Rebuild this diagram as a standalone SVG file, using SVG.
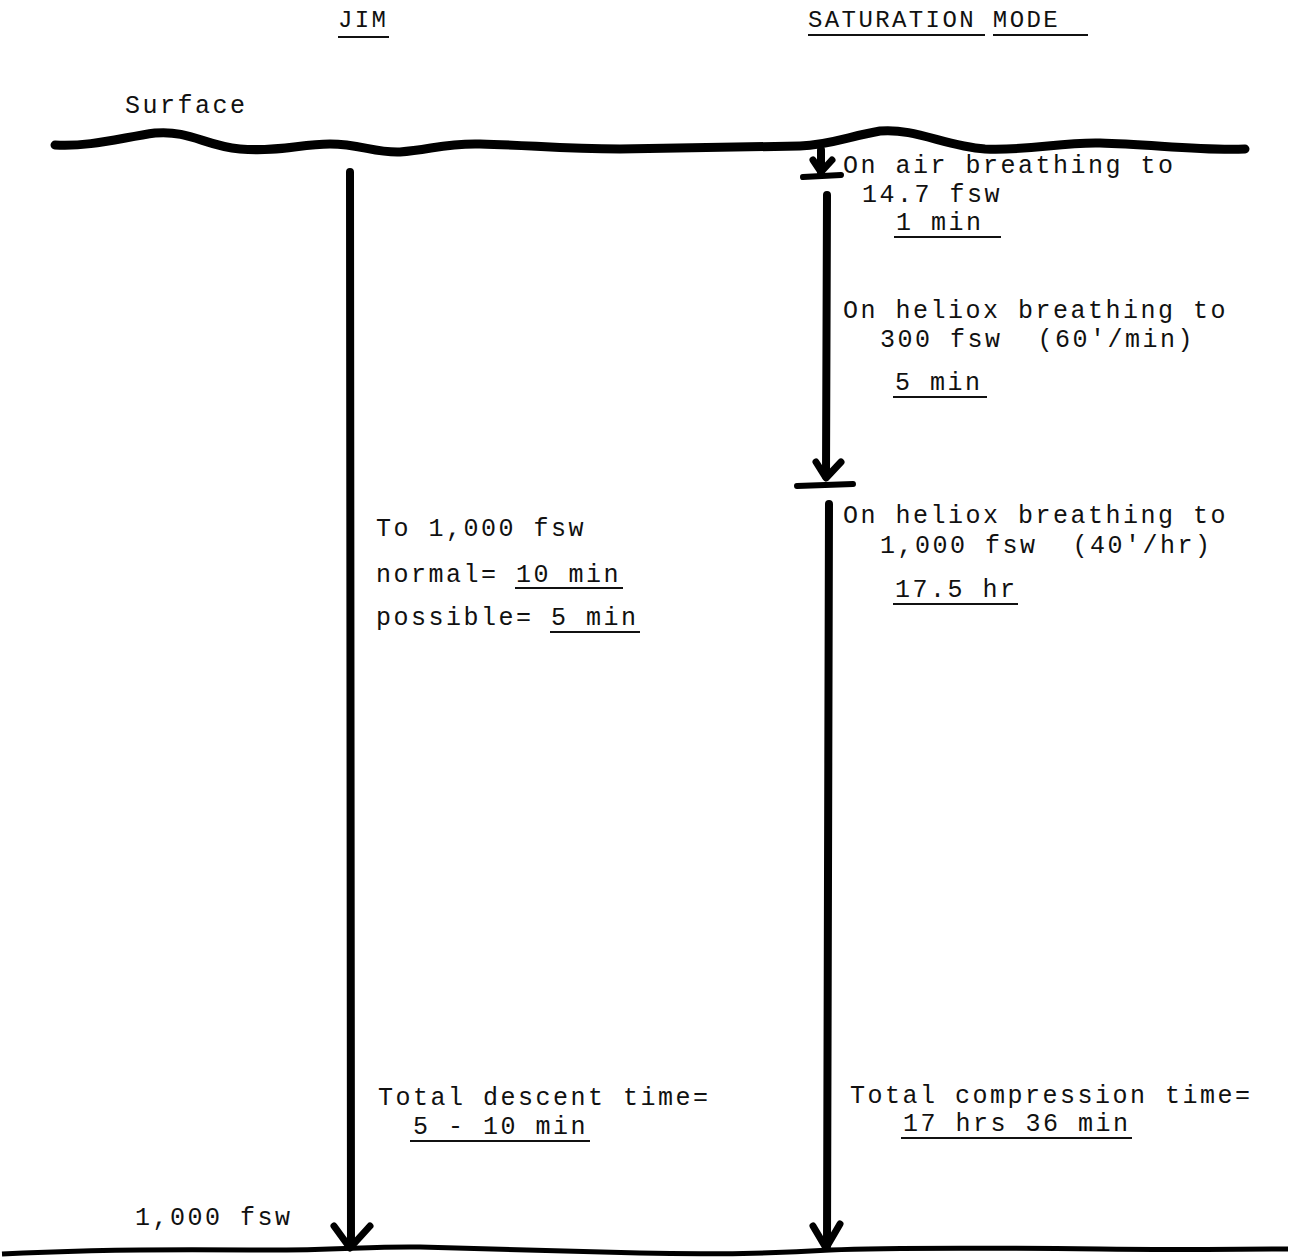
<svg xmlns="http://www.w3.org/2000/svg" width="1291" height="1259" viewBox="0 0 1291 1259">
<style>
text{font-family:"Liberation Mono","Courier New",monospace;font-size:25px;letter-spacing:2.5px;fill:#111;white-space:pre}
.hd{font-size:24px;letter-spacing:2.4px}
.ul{stroke:#111;stroke-width:2.2;fill:none}
.shaft{stroke:#000;stroke-linecap:round;fill:none}
.head{fill:none;stroke:#000;stroke-width:7;stroke-linecap:round;stroke-linejoin:round}
</style>
<rect width="1291" height="1259" fill="#fff"/>
<g id="headings">
<text class="hd" x="338" y="27">JIM</text>
<line class="ul" x1="338" y1="37" x2="389" y2="37"/>
<text class="hd" x="808" y="27">SATURATION MODE</text>
<line class="ul" x1="808" y1="35" x2="985" y2="35"/>
<line class="ul" x1="993" y1="35" x2="1088" y2="35"/>
</g>
<g id="surface">
<text x="125" y="113">Surface</text>
<path d="M55,145 C90,147 120,138 155,133 C190,130 205,146 240,149 C280,152 300,144 330,144 C360,144 375,153 400,152 C430,150 445,143 480,144 C530,145 560,149 620,149 C680,148 740,147 800,146 C830,145 850,136 880,131 C915,128 945,146 985,149 C1030,151 1060,142 1100,143 C1150,144 1200,151 1245,149" stroke="#000" stroke-width="9" fill="none" stroke-linecap="round"/>
</g>
<g id="bottom">
<text x="135" y="1225">1,000 fsw</text>
<path d="M2,1254 C60,1251 150,1249 250,1250 C330,1251 370,1246 420,1247 C480,1248 560,1251 640,1253 C720,1255 780,1253 830,1250 C900,1247 1000,1248 1100,1249 C1180,1250 1240,1249 1288,1249" stroke="#000" stroke-width="5" fill="none"/>
</g>
<g id="connectors">
<line class="shaft" x1="350" y1="172" x2="351" y2="1246" stroke-width="8"/>
<path class="head" d="M334,1226 L350,1248 L370,1226"/>
<line class="shaft" x1="821" y1="150" x2="821" y2="172" stroke-width="8"/>
<path class="head" d="M813,160 L821,172 L832,160"/>
<line class="shaft" x1="803" y1="177" x2="841" y2="175" stroke-width="6"/>
<line class="shaft" x1="827" y1="195" x2="826" y2="476" stroke-width="8"/>
<path class="head" d="M816,462 L826,478 L841,462"/>
<line class="shaft" x1="797" y1="486" x2="853" y2="484" stroke-width="6"/>
<line class="shaft" x1="829" y1="504" x2="827" y2="1246" stroke-width="8"/>
<path class="head" d="M813,1226 L826,1248 L840,1224"/>
</g>
<g id="sat-texts">
<text x="843" y="173">On air breathing to</text>
<text x="862" y="202">14.7 fsw</text>
<text x="896" y="230">1 min</text>
<line class="ul" x1="894" y1="237" x2="1001" y2="237"/>
<text x="843" y="318">On heliox breathing to</text>
<text x="880" y="347" xml:space="preserve">300 fsw  (60'/min)</text>
<text x="895" y="390">5 min</text>
<line class="ul" x1="893" y1="397" x2="987" y2="397"/>
<text x="843" y="523">On heliox breathing to</text>
<text x="880" y="553" xml:space="preserve">1,000 fsw  (40'/hr)</text>
<text x="895" y="597">17.5 hr</text>
<line class="ul" x1="893" y1="604" x2="1018" y2="604"/>
<text x="850" y="1103">Total compression time=</text>
<text x="903" y="1131">17 hrs 36 min</text>
<line class="ul" x1="901" y1="1138" x2="1132" y2="1138"/>
</g>
<g id="jim-texts">
<text x="376" y="536">To 1,000 fsw</text>
<text x="376" y="582">normal= 10 min</text>
<line class="ul" x1="515" y1="588" x2="623" y2="588"/>
<text x="376" y="625">possible= 5 min</text>
<line class="ul" x1="550" y1="632" x2="640" y2="632"/>
<text x="378" y="1105">Total descent time=</text>
<text x="413" y="1134">5 - 10 min</text>
<line class="ul" x1="410" y1="1141" x2="590" y2="1141"/>
</g>
</svg>
